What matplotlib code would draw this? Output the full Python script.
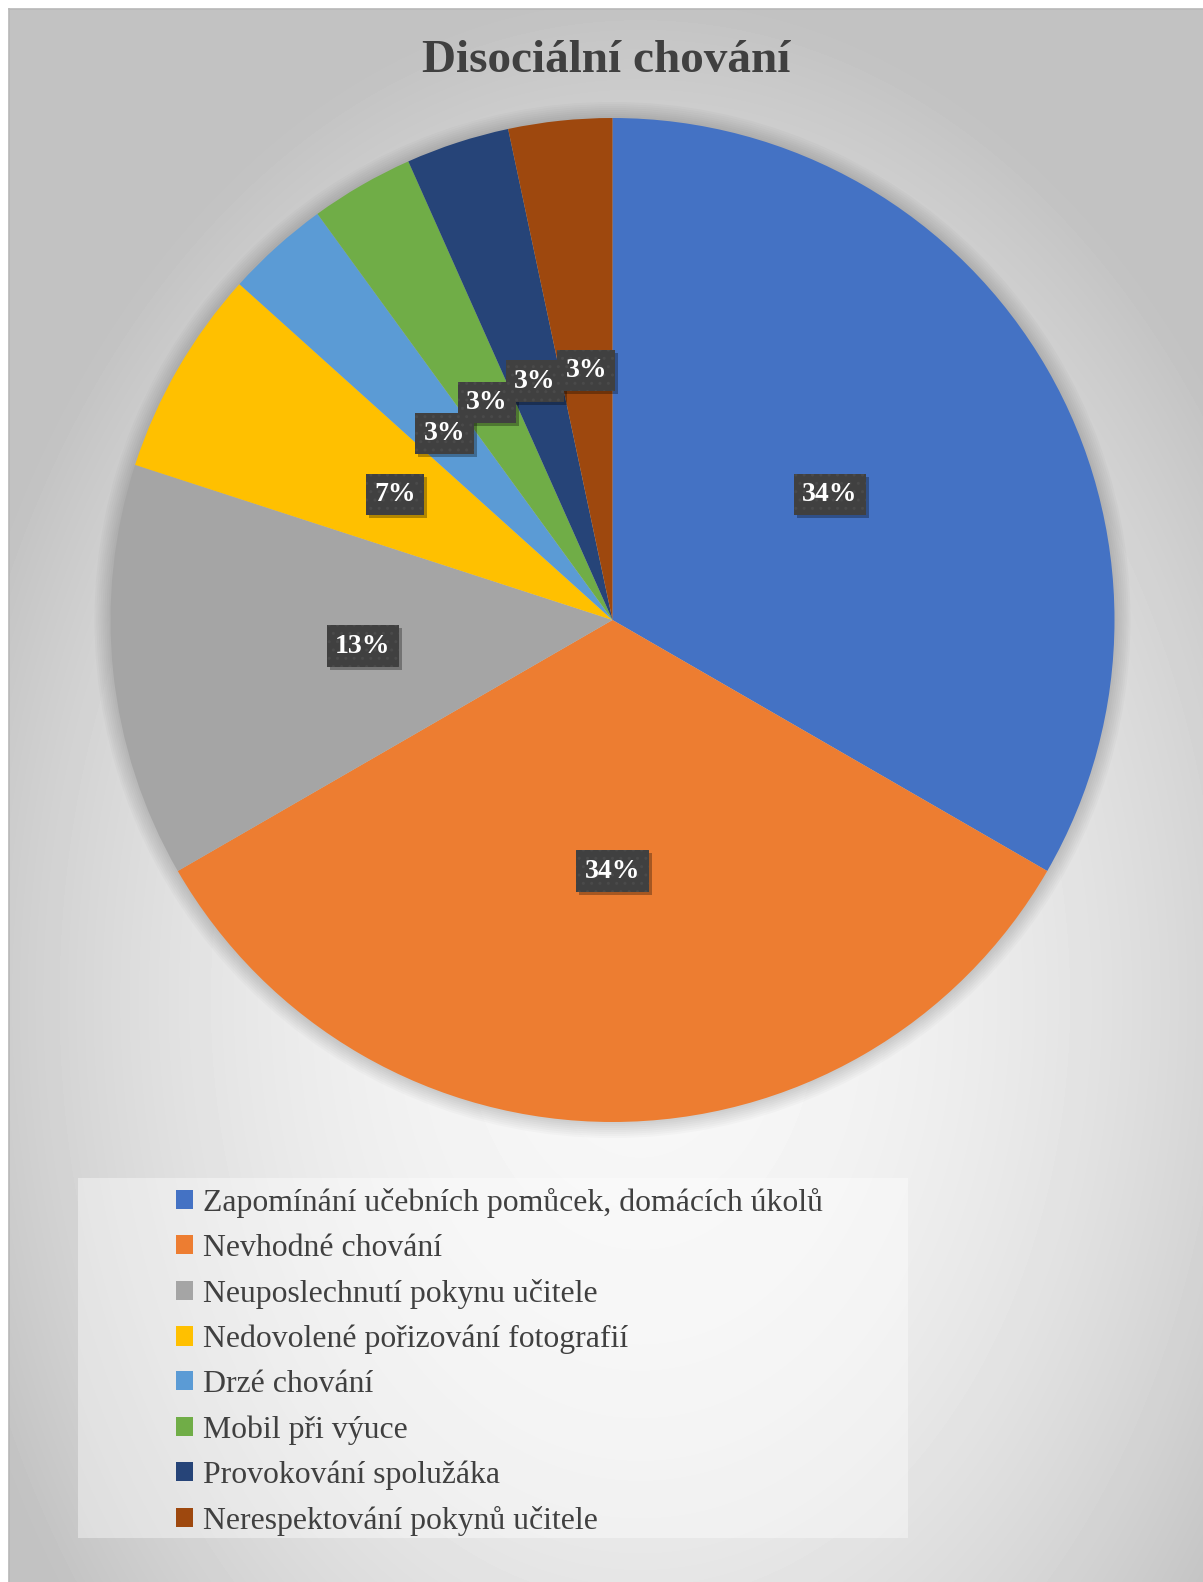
import numpy as np
import matplotlib.pyplot as plt
from matplotlib.patches import Rectangle, Circle
from matplotlib.lines import Line2D
from matplotlib import transforms

title = "Disociální chování"
categories = [
    "Zapomínání učebních pomůcek, domácích úkolů",
    "Nevhodné chování",
    "Neuposlechnutí pokynu učitele",
    "Nedovolené pořizování fotografií",
    "Drzé chování",
    "Mobil při výuce",
    "Provokování spolužáka",
    "Nerespektování pokynů učitele",
]
counts = [10, 10, 4, 2, 1, 1, 1, 1]
pct_labels = ["34%", "34%", "13%", "7%", "3%", "3%", "3%", "3%"]
colors = ["#4472C4", "#ED7D31", "#A5A5A5", "#FFC000",
          "#5B9BD5", "#70AD47", "#264478", "#9E480E"]

W, H = 1203, 1582
SERIF = "Liberation Serif"
plt.rcParams['hatch.linewidth'] = 1.0

fig = plt.figure(figsize=(W / 100, H / 100), dpi=100)
fig.patch.set_facecolor("white")

# chart area background (soft radial gradient)
bg = fig.add_axes([9 / W, 0, 1 - 9 / W, 1 - 9 / H])
yy, xx = np.mgrid[9:H, 9:W]
t = np.sqrt(((xx - 640) / 750.0) ** 2 + ((yy - 1000) / 1050.0) ** 2)
v = np.clip(0.97 - 0.23 * t ** 2, 0.76, 1.0)
bg.imshow(v, cmap="gray", vmin=0, vmax=1, aspect="auto", interpolation="bilinear")
bg.set_axis_off()

fig.add_artist(Line2D([9 / W, 1], [1 - 9 / H, 1 - 9 / H], color="#b8b8b8", lw=1.2,
                      transform=fig.transFigure))
fig.add_artist(Line2D([9 / W, 9 / W], [0, 1 - 9 / H], color="#b8b8b8", lw=1.2,
                      transform=fig.transFigure))

# legend backdrop
fig.add_artist(Rectangle((78 / W, 1 - 1538 / H), (908 - 78) / W, (1538 - 1178) / H,
                         transform=fig.transFigure, facecolor="white", alpha=0.4,
                         edgecolor="none"))

# pie
cx, cy, r = 612.5, 620, 502
ax = fig.add_axes([(cx - r) / W, (H - cy - r) / H, 2 * r / W, 2 * r / H])
for i in range(8):
    ax.add_patch(Circle((0, 0), 1 + 0.004 * (i + 1), color="black", alpha=0.018,
                        lw=0, zorder=0, clip_on=False))
wedges, _ = ax.pie(counts, colors=colors, startangle=90, counterclock=False,
                   radius=1, wedgeprops=dict(linewidth=0))
ax.set_xlim(-1, 1)
ax.set_ylim(-1, 1)
ax.set_aspect("equal")
ax.set_axis_off()

shadow_tr = transforms.offset_copy(ax.transData, fig=fig, x=3, y=-3, units="dots")
for w, lab in zip(wedges, pct_labels):
    ang = np.deg2rad((w.theta1 + w.theta2) / 2)
    x, y = 0.5 * np.cos(ang), 0.5 * np.sin(ang)
    ax.text(x, y, lab, ha="center", va="center", fontsize=20, fontweight="bold",
            family=SERIF, color=(0, 0, 0, 0), transform=shadow_tr, zorder=4,
            bbox=dict(boxstyle="square,pad=0.3", facecolor="black", alpha=0.3,
                      edgecolor="none"))
    ax.text(x, y, lab, ha="center", va="center", fontsize=20, fontweight="bold",
            family=SERIF, color="white", zorder=5,
            bbox=dict(boxstyle="square,pad=0.3", facecolor="#404040",
                      edgecolor="#4a4a4a", linewidth=0, hatch=".."))

fig.text(606 / W, 1 - 61 / H, title, ha="center", va="center", fontsize=34,
         fontweight="bold", family=SERIF, color="#404040")

fig.legend(wedges, categories, loc="upper left", bbox_to_anchor=(176 / W, 1 - 1188 / H),
           frameon=False, prop=dict(family=SERIF, size=22.9), labelcolor="#404040",
           handlelength=0.55, handleheight=0.55, handletextpad=0.3, labelspacing=0.5,
           borderpad=0, borderaxespad=0)

fig.savefig("out.png", dpi=100)
